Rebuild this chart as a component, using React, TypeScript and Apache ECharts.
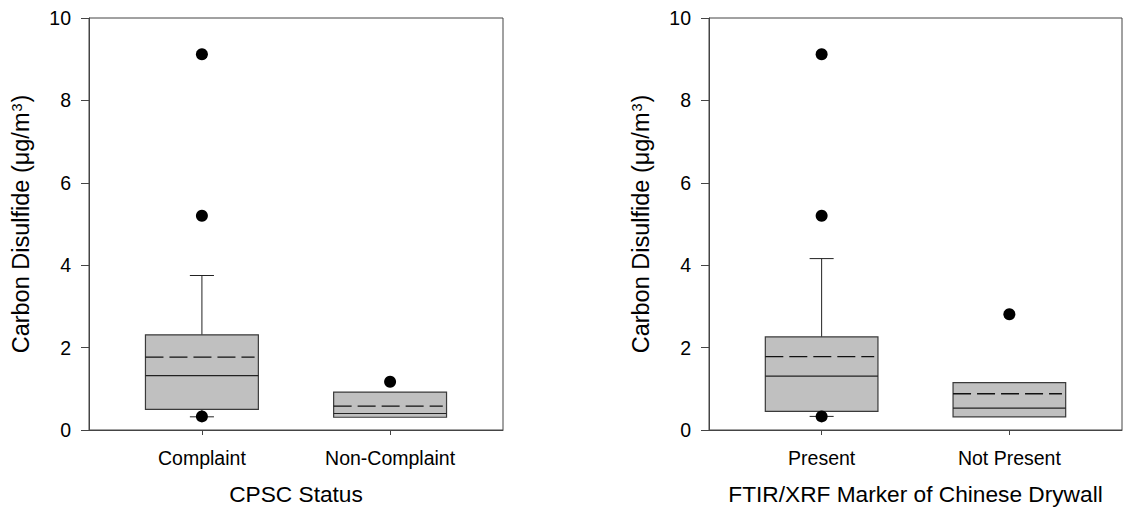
import React, { useEffect, useRef } from "react";
import * as echarts from "echarts";

// Left panel: CPSC Status
const categoriesA = ["Complaint", "Non-Complaint"];
const lowWhiskerA: (number | null)[] = [0.32, null];
const q1A = [0.5, 0.31];
const medianA = [1.32, 0.4];
const q3A = [2.31, 0.92];
const highWhiskerA: (number | null)[] = [3.75, null];
const meanA = [1.77, 0.58];
const outliersA = [[9.12, 5.2, 0.33], [1.17]];

// Right panel: FTIR/XRF Marker of Chinese Drywall
const categoriesB = ["Present", "Not Present"];
const lowWhiskerB: (number | null)[] = [0.33, null];
const q1B = [0.45, 0.32];
const medianB = [1.31, 0.53];
const q3B = [2.26, 1.15];
const highWhiskerB: (number | null)[] = [4.16, null];
const meanB = [1.78, 0.88];
const outliersB = [[9.12, 5.2, 0.33], [2.81]];

const positions = [1, 2];
const yTicks = [0, 2, 4, 6, 8, 10];

const FONT = "'Liberation Sans', Arial, sans-serif";

type Stats = {
  low: (number | null)[];
  q1: number[];
  med: number[];
  q3: number[];
  high: (number | null)[];
  mean: number[];
};

function makeRender(s: Stats) {
  return (params: any, api: any) => {
    const i = params.dataIndex;
    const x = api.value(0);
    const halfW = 0.3;
    const halfCap = 0.064;
    const children: any[] = [];
    const lineStyle = { stroke: "#222", lineWidth: 1 };
    const seg = (x1: number, y1: number, x2: number, y2: number, style: any) => {
      const a = api.coord([x1, y1]);
      const b = api.coord([x2, y2]);
      return { type: "line", shape: { x1: a[0], y1: a[1], x2: b[0], y2: b[1] }, style };
    };
    const hi = s.high[i];
    if (hi != null) {
      children.push(seg(x, s.q3[i], x, hi, lineStyle));
      children.push(seg(x - halfCap, hi, x + halfCap, hi, lineStyle));
    }
    const lo = s.low[i];
    if (lo != null) {
      children.push(seg(x, s.q1[i], x, lo, lineStyle));
      children.push(seg(x - halfCap, lo, x + halfCap, lo, lineStyle));
    }
    const tl = api.coord([x - halfW, s.q3[i]]);
    const br = api.coord([x + halfW, s.q1[i]]);
    children.push({
      type: "rect",
      shape: { x: tl[0], y: tl[1], width: br[0] - tl[0], height: br[1] - tl[1] },
      style: { fill: "#c0c0c0", stroke: "#3a3a3a", lineWidth: 1.2 },
    });
    children.push(seg(x - halfW, s.med[i], x + halfW, s.med[i], { stroke: "#222", lineWidth: 1.2 }));
    children.push(
      seg(x - halfW, s.mean[i], x + halfW - 0.02, s.mean[i], {
        stroke: "#111",
        lineWidth: 1.3,
        lineDash: [18, 6],
      })
    );
    return { type: "group", children };
  };
}

function outlierPoints(out: number[][]) {
  const pts: number[][] = [];
  out.forEach((vals, i) => vals.forEach((v) => pts.push([positions[i], v])));
  return pts;
}

function xAxisFor(idx: number, cats: string[], title: string) {
  return {
    type: "value",
    gridIndex: idx,
    min: 0.4,
    max: 2.6,
    name: title,
    nameLocation: "middle",
    nameGap: 52,
    nameTextStyle: { fontFamily: FONT, fontSize: 22.7, color: "#000" },
    axisLine: { show: true, onZero: false, lineStyle: { color: "#444", width: 1 } },
    axisTick: { show: true, inside: false, length: 5, customValues: positions, lineStyle: { color: "#444" } },
    axisLabel: {
      customValues: positions,
      margin: 18,
      fontFamily: FONT,
      fontSize: 19.5,
      color: "#000",
      formatter: (v: number) => cats[Math.round(v) - 1] ?? "",
    },
    splitLine: { show: false },
  };
}

function yAxisFor(idx: number) {
  return {
    type: "value",
    gridIndex: idx,
    min: 0,
    max: 10,
    interval: 2,
    name: "Carbon Disulfide (μg/m{sup|3})",
    nameLocation: "middle",
    nameGap: 56,
    nameTextStyle: {
      fontFamily: FONT,
      fontSize: 23.5,
      color: "#000",
      rich: {
        sup: { fontFamily: FONT, fontSize: 14.5, color: "#000", verticalAlign: "top", padding: [0, 1, 0, 1] },
      },
    },
    axisLine: { show: true, onZero: false, lineStyle: { color: "#444", width: 1 } },
    axisTick: { show: true, inside: false, length: 8, customValues: yTicks, lineStyle: { color: "#444" } },
    axisLabel: { margin: 18, fontFamily: FONT, fontSize: 19.5, color: "#000" },
    splitLine: { show: false },
  };
}

export default function App() {
  const ref = useRef<HTMLDivElement>(null);
  useEffect(() => {
    if (!ref.current) return;
    const chart = echarts.init(ref.current, undefined, { renderer: "svg" });
    const statsA: Stats = { low: lowWhiskerA, q1: q1A, med: medianA, q3: q3A, high: highWhiskerA, mean: meanA };
    const statsB: Stats = { low: lowWhiskerB, q1: q1B, med: medianB, q3: q3B, high: highWhiskerB, mean: meanB };
    chart.setOption({
      animation: false,
      backgroundColor: "#fff",
      grid: [
        { left: 89, top: 18, width: 414, height: 414, show: true, borderColor: "#444", borderWidth: 1, backgroundColor: "transparent" },
        { left: 709, top: 18, width: 413, height: 414, show: true, borderColor: "#444", borderWidth: 1, backgroundColor: "transparent" },
      ],
      xAxis: [xAxisFor(0, categoriesA, "CPSC Status"), xAxisFor(1, categoriesB, "FTIR/XRF Marker of Chinese Drywall")],
      yAxis: [yAxisFor(0), yAxisFor(1)],
      series: [
        {
          type: "custom",
          xAxisIndex: 0,
          yAxisIndex: 0,
          renderItem: makeRender(statsA),
          data: positions.map((p, i) => [p, q1A[i], q3A[i]]),
          encode: { x: 0, y: [1, 2] },
          z: 2,
        },
        {
          type: "custom",
          xAxisIndex: 1,
          yAxisIndex: 1,
          renderItem: makeRender(statsB),
          data: positions.map((p, i) => [p, q1B[i], q3B[i]]),
          encode: { x: 0, y: [1, 2] },
          z: 2,
        },
        {
          type: "scatter",
          xAxisIndex: 0,
          yAxisIndex: 0,
          symbol: "circle",
          symbolSize: 12,
          itemStyle: { color: "#000", opacity: 1 },
          data: outlierPoints(outliersA),
          z: 5,
        },
        {
          type: "scatter",
          xAxisIndex: 1,
          yAxisIndex: 1,
          symbol: "circle",
          symbolSize: 12,
          itemStyle: { color: "#000", opacity: 1 },
          data: outlierPoints(outliersB),
          z: 5,
        },
      ],
    });
    return () => chart.dispose();
  }, []);
  return (
    <div
      ref={ref}
      style={{ position: "fixed", left: 0, top: 0, width: 1123, height: 510, background: "#fff" }}
    />
  );
}
